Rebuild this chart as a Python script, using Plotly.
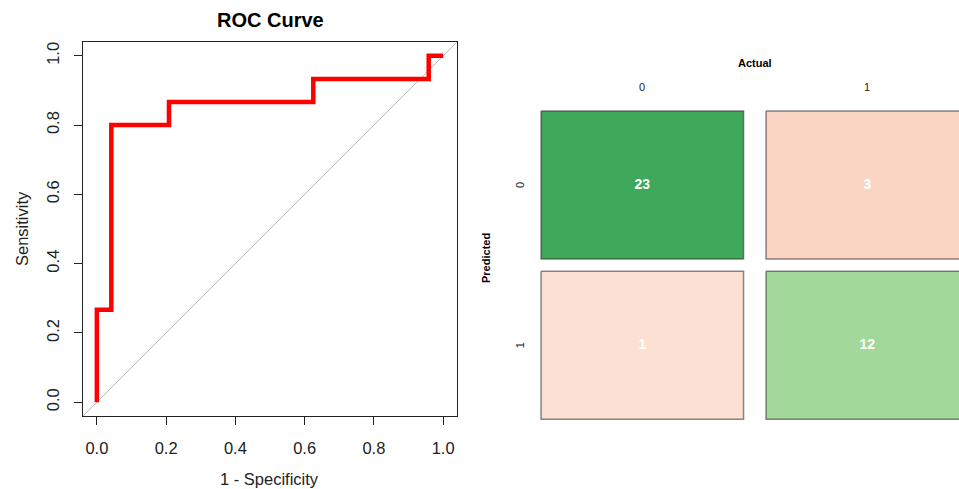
import plotly.graph_objects as go

# ---------------- data ----------------
# ROC curve corner points (1 - specificity, sensitivity)
roc_fpr = [0.0, 0.0, 0.0417, 0.0417, 0.2083, 0.2083, 0.625, 0.625, 0.9583, 0.9583, 1.0]
roc_tpr = [0.0, 0.2667, 0.2667, 0.8, 0.8, 0.8667, 0.8667, 0.9333, 0.9333, 1.0, 1.0]
roc_ticks = [0.0, 0.2, 0.4, 0.6, 0.8, 1.0]

# Confusion matrix: rows = Predicted, columns = Actual
cm_labels = ["0", "1"]
cm_values = [[23, 3],
             [1, 12]]

# ---------------- style ----------------
W, H = 959, 489


def px(x):
    return x / W


def py(y):
    return 1 - y / H


FONT = "Liberation Sans, Arial, sans-serif"
TXT = "#222222"
cell_fill = {(0, 0): "#3ea85b", (0, 1): "#fad5c3",
             (1, 0): "#fce0d4", (1, 1): "#a2d99b"}
cell_border = "rgba(40,40,40,0.55)"
half_w, half_h = 0.45, 0.4616

fig = go.Figure()

# ROC axes
xr = [-0.04, 1.04]
yr = [-0.04, 1.04]
fig.add_trace(go.Scatter(x=xr, y=yr, mode="lines",
                         line=dict(color="#bebebe", width=1),
                         xaxis="x", yaxis="y", hoverinfo="skip", showlegend=False))
fig.add_trace(go.Scatter(x=roc_fpr, y=roc_tpr, mode="lines",
                         line=dict(color="#ff0000", width=4.5),
                         xaxis="x", yaxis="y", showlegend=False))

# Confusion matrix tiles
for r, row in enumerate(cm_values):
    for c, v in enumerate(row):
        fig.add_trace(go.Scatter(
            x=[c - half_w, c + half_w, c + half_w, c - half_w, c - half_w],
            y=[r - half_h, r - half_h, r + half_h, r + half_h, r - half_h],
            mode="lines", fill="toself", fillcolor=cell_fill[(r, c)],
            line=dict(color=cell_border, width=1.5),
            xaxis="x2", yaxis="y2", hoverinfo="skip", showlegend=False))
        fig.add_trace(go.Scatter(
            x=[c], y=[r], mode="text", text=[str(v)],
            textfont=dict(family=FONT, size=14, color="white", weight="bold"),
            xaxis="x2", yaxis="y2", showlegend=False, cliponaxis=False))


def note(text, x, y, size, color=TXT, angle=0, xref="paper", yref="paper"):
    return dict(text=text, x=x, y=y, xref=xref, yref=yref, xanchor="center",
                yanchor="middle", textangle=angle, showarrow=False,
                font=dict(family=FONT, size=size, color=color))


ann = [
    note("<b>ROC Curve</b>", px(270), py(20), 20, "#000"),
    note("Sensitivity", px(22), py(229), 16.5, angle=-90),
    note("1 - Specificity", px(269), py(479), 16.5),
    note("<b>Actual</b>", px(755), py(63), 11, "#000"),
    note("<b>Predicted</b>", px(486), py(258), 11, "#000", angle=-90),
]
for i, lab in enumerate(cm_labels):
    ann.append(note(lab, i, py(87), 11, xref="x2"))
    ann.append(note(lab, px(520), i, 11, angle=-90, yref="y2"))

axis_common = dict(showgrid=False, zeroline=False, showline=True, mirror=True,
                   linecolor="#222", linewidth=1.2, ticks="outside", ticklen=8,
                   tickwidth=1.2, tickcolor="#222",
                   tickfont=dict(family=FONT, size=16.5, color=TXT))

# right panel pixel geometry
x2_left_px = 508.0
x2_right_px = 959.0
col0_px, col_unit = 642.3, 225.0
y2_top_px, y2_bot_px = 100.0, 430.0
row0_px, row_unit = 185.0, 160.35

fig.update_layout(
    width=W, height=H, margin=dict(l=0, r=0, t=0, b=0),
    paper_bgcolor="white", plot_bgcolor="white", showlegend=False,
    xaxis=dict(domain=[px(83), px(457)], range=xr, tickvals=roc_ticks,
               ticktext=[f"{t:.1f}" for t in roc_ticks], ticklabelstandoff=9,
               anchor="y", **axis_common),
    yaxis=dict(domain=[py(416), py(42)], range=yr, tickvals=roc_ticks,
               ticktext=[f"{t:.1f}" for t in roc_ticks], tickangle=-90, ticklabelstandoff=8,
               anchor="x", **axis_common),
    xaxis2=dict(domain=[px(x2_left_px), px(x2_right_px)],
                range=[(x2_left_px - col0_px) / col_unit, (x2_right_px - col0_px) / col_unit],
                visible=False, anchor="y2"),
    yaxis2=dict(domain=[py(y2_bot_px), py(y2_top_px)],
                range=[(y2_bot_px - row0_px) / row_unit, (y2_top_px - row0_px) / row_unit],
                visible=False, anchor="x2"),
    annotations=ann,
)

fig.write_html("out.html", config={"displayModeBar": False},
               post_script="document.body.style.margin='0';document.body.style.overflow='hidden';")
